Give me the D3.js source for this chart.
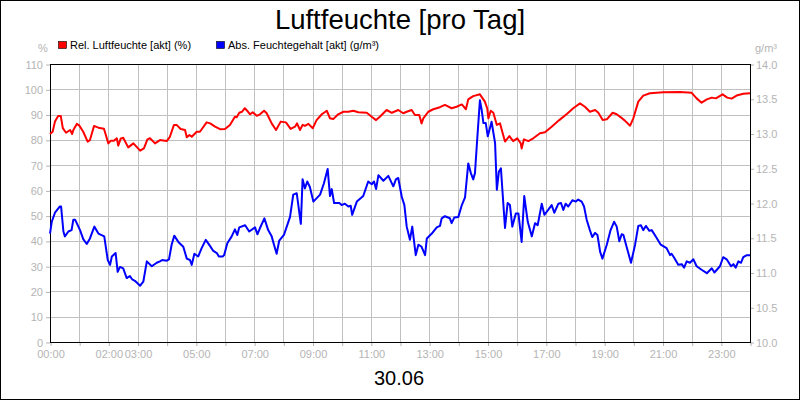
<!DOCTYPE html>
<html><head><meta charset="utf-8">
<script src="https://cdn.jsdelivr.net/npm/d3@7"></script>
<style>
body{margin:0;background:#fff;}
svg{display:block;font-family:"Liberation Sans",Arial,sans-serif;}
</style></head>
<body>
<svg id="c" width="800" height="400"></svg>
<script>
const title = "Luftfeuchte [pro Tag]";
const dateLabel = "30.06";
const seriesNames = ["Rel. Luftfeuchte [akt] (%)", "Abs. Feuchtegehalt [akt] (g/m³)"];
const leftUnit = "%", rightUnit = "g/m³";
const leftTicks = [0,10,20,30,40,50,60,70,80,90,100,110];
const rightTicks = [10.0,10.5,11.0,11.5,12.0,12.5,13.0,13.5,14.0];
const hourTicks = d3.range(0, 25);
const xLabelHours = [0,2,3,5,7,9,11,13,15,17,19,21,23];

// relative humidity: [hour, %]
const relHours = [0.00,0.09,0.17,0.28,0.37,0.44,0.55,0.69,0.76,0.80,0.92,1.00,1.14,1.29,1.37,1.51,1.66,1.85,2.00,2.08,2.19,2.29,2.34,2.42,2.51,2.68,2.86,3.09,3.22,3.34,3.43,3.60,3.77,4.00,4.11,4.25,4.34,4.48,4.63,4.69,4.78,4.86,5.03,5.14,5.37,5.49,5.66,5.83,6.00,6.17,6.34,6.40,6.49,6.58,6.68,6.76,6.86,6.95,7.09,7.20,7.34,7.43,7.60,7.75,7.91,8.09,8.25,8.40,8.47,8.57,8.66,8.74,8.86,9.01,9.14,9.32,9.49,9.60,9.71,9.88,10.06,10.23,10.40,10.57,10.86,11.03,11.18,11.31,11.54,11.72,11.94,12.11,12.23,12.40,12.51,12.66,12.74,12.80,12.97,13.14,13.37,13.54,13.77,13.94,14.12,14.26,14.34,14.51,14.74,14.91,14.99,15.03,15.11,15.20,15.32,15.43,15.49,15.60,15.75,15.88,16.02,16.14,16.17,16.25,16.40,16.57,16.80,16.97,17.20,17.46,17.72,17.94,18.17,18.34,18.51,18.69,18.80,18.95,19.09,19.29,19.43,19.57,19.71,19.89,20.00,20.17,20.34,20.57,21.03,21.60,22.00,22.17,22.34,22.52,22.69,22.83,23.06,23.22,23.37,23.54,23.77,24.00];
const relValues = [82.3,83.2,87.2,89.4,89.4,84.6,82.8,83.9,82.3,83.9,86.3,85.7,83.2,79.3,79.9,85.5,84.8,84.4,78.6,79.6,79.6,80.6,77.7,80.4,80.8,77.0,78.6,75.7,76.6,80.2,80.6,78.6,79.9,79.5,81.2,85.9,85.9,84.3,83.9,81.0,81.9,81.2,83.2,83.2,86.9,86.5,85.2,84.2,84.3,85.9,89.1,88.9,90.7,91.1,92.5,91.5,90.1,90.9,89.5,90.1,91.5,90.5,86.5,83.9,87.2,86.9,84.3,85.2,86.5,83.9,85.9,85.5,86.3,84.6,87.8,90.1,91.5,88.5,88.2,90.1,91.1,91.1,91.5,90.9,90.7,89.1,87.8,89.1,91.8,90.7,91.8,90.5,91.1,91.8,89.8,89.8,86.5,88.5,91.1,92.1,92.9,93.8,92.5,93.1,94.0,92.1,96.0,97.3,98.0,95.1,92.5,88.5,91.5,90.7,85.9,86.5,83.9,79.3,81.5,79.5,80.6,78.6,76.6,80.2,79.5,80.6,82.6,83.0,85.2,87.8,90.2,92.5,94.4,93.1,91.1,91.8,90.7,87.8,88.1,90.7,90.1,88.9,87.6,85.6,88.5,95.1,97.5,98.4,98.8,98.9,98.6,96.4,94.7,96.0,96.7,96.4,98.0,96.7,96.3,97.5,98.2,98.4];

// absolute humidity: [hour, g/m³]
const absHours = [0.00,0.06,0.17,0.34,0.38,0.46,0.51,0.63,0.74,0.80,0.86,1.03,1.14,1.26,1.37,1.52,1.66,1.86,1.98,2.06,2.12,2.25,2.32,2.40,2.51,2.63,2.74,2.82,2.91,3.09,3.20,3.32,3.49,3.66,3.77,3.85,4.00,4.08,4.17,4.26,4.40,4.57,4.69,4.80,4.86,4.95,5.08,5.20,5.34,5.49,5.60,5.72,5.79,5.92,5.97,6.08,6.23,6.34,6.42,6.49,6.69,6.83,7.03,7.11,7.20,7.35,7.48,7.60,7.68,7.77,7.86,8.02,8.23,8.34,8.46,8.60,8.66,8.74,8.82,8.91,9.03,9.26,9.39,9.52,9.60,9.66,9.74,9.92,10.00,10.11,10.23,10.31,10.36,10.52,10.74,10.91,11.03,11.11,11.18,11.26,11.43,11.60,11.77,11.86,11.94,12.06,12.15,12.23,12.34,12.42,12.54,12.63,12.74,12.86,12.92,13.09,13.26,13.37,13.43,13.54,13.71,13.77,13.86,14.00,14.12,14.23,14.34,14.43,14.51,14.57,14.63,14.74,14.80,14.86,14.94,15.01,15.14,15.26,15.32,15.39,15.46,15.51,15.60,15.69,15.77,15.85,15.97,16.06,16.17,16.26,16.38,16.52,16.63,16.72,16.86,16.95,17.08,17.20,17.29,17.43,17.52,17.60,17.68,17.77,17.91,18.03,18.11,18.23,18.31,18.40,18.51,18.59,18.69,18.77,18.86,18.94,19.09,19.22,19.34,19.43,19.52,19.60,19.66,19.75,19.92,20.06,20.17,20.26,20.34,20.43,20.55,20.63,20.78,20.94,21.14,21.26,21.31,21.39,21.54,21.66,21.74,21.83,21.94,22.06,22.17,22.34,22.52,22.69,22.78,22.97,23.08,23.20,23.35,23.43,23.51,23.60,23.69,23.77,23.89,24.00];
const absValues = [11.56,11.73,11.86,11.95,11.95,11.59,11.52,11.59,11.61,11.76,11.76,11.61,11.48,11.41,11.49,11.66,11.56,11.52,11.18,11.11,11.23,11.28,11.01,11.08,11.06,10.92,10.95,10.90,10.88,10.81,10.87,11.16,11.09,11.14,11.16,11.18,11.17,11.19,11.40,11.53,11.44,11.37,11.20,11.18,11.11,11.27,11.23,11.35,11.47,11.38,11.31,11.28,11.23,11.23,11.25,11.42,11.52,11.62,11.54,11.65,11.68,11.59,11.65,11.55,11.64,11.78,11.61,11.52,11.40,11.27,11.46,11.54,11.80,12.12,12.14,11.70,12.34,12.21,12.31,12.23,12.02,12.12,12.28,12.49,12.10,12.20,12.00,12.00,11.97,11.99,11.95,11.96,11.83,12.02,12.10,12.31,12.27,12.31,12.20,12.40,12.32,12.39,12.24,12.34,12.36,12.09,11.97,11.66,11.47,11.66,11.25,11.40,11.37,11.25,11.49,11.56,11.65,11.67,11.78,11.81,11.78,11.71,11.79,11.80,11.97,12.08,12.57,12.43,12.34,12.43,12.81,13.48,13.34,13.15,13.15,12.96,13.17,12.86,12.19,12.45,12.50,12.19,11.64,12.00,11.97,11.66,11.85,11.85,11.44,12.10,11.73,11.52,11.71,11.68,11.99,11.83,11.90,11.97,11.86,11.99,12.00,11.90,11.99,11.95,12.04,12.02,12.05,12.02,11.95,11.76,11.61,11.51,11.57,11.54,11.30,11.20,11.40,11.61,11.73,11.66,11.45,11.55,11.54,11.40,11.14,11.40,11.67,11.68,11.61,11.67,11.60,11.61,11.51,11.40,11.35,11.25,11.27,11.22,11.11,11.12,11.07,11.16,11.14,11.19,11.09,11.04,10.99,11.06,11.00,11.09,11.22,11.19,11.09,11.12,11.07,11.16,11.14,11.22,11.25,11.25];

const colors = ["#ff0000", "#0000ff"];
const gridColor = "#c0c0c0", labelColor = "#b4b4b4";

const svg = d3.select("#c");
const W = 800, H = 400;
const m = {left: 50, right: 50, top: 64, bottom: 58};
const x = d3.scaleLinear().domain([0, 24]).range([m.left, W - m.right]);
const yL = d3.scaleLinear().domain([0, 110]).range([H - m.bottom, m.top]);
const yR = d3.scaleLinear().domain([10, 14]).range([H - m.bottom, m.top]);

svg.append("rect").attr("x",0.5).attr("y",0.5).attr("width",W-1).attr("height",H-1)
  .attr("fill","#fff").attr("stroke","#000");

// grid
const g = svg.append("g");
g.selectAll(".hg").data(leftTicks).join("line")
  .attr("x1", x(0)).attr("x2", x(24))
  .attr("y1", d => Math.round(yL(d)) + 0.5).attr("y2", d => Math.round(yL(d)) + 0.5)
  .attr("stroke", gridColor);
g.selectAll(".vg").data(hourTicks).join("line")
  .attr("y1", yL(0)).attr("y2", yL(110))
  .attr("x1", d => Math.round(x(d)) + 0.5).attr("x2", d => Math.round(x(d)) + 0.5)
  .attr("stroke", gridColor);

function styleAxis(sel){
  sel.select(".domain").remove();
  sel.selectAll(".tick line").attr("stroke", labelColor);
  sel.selectAll(".tick text").attr("fill", labelColor).attr("font-size", 11)
    .attr("font-family", "Liberation Sans, Arial, sans-serif");
}

svg.append("g").attr("transform", `translate(${x(0)},0.5)`)
  .call(d3.axisLeft(yL).tickValues(leftTicks).tickSize(4).tickPadding(3))
  .call(styleAxis);
svg.append("g").attr("transform", `translate(${x(24)},0.5)`)
  .call(d3.axisRight(yR).tickValues(rightTicks).tickSize(4).tickPadding(2).tickFormat(d3.format(".1f")))
  .call(styleAxis);
const xa = svg.append("g").attr("transform", `translate(0.5,${yL(0)})`)
  .call(d3.axisBottom(x).tickValues(hourTicks).tickSize(4).tickPadding(4)
    .tickFormat(d => xLabelHours.includes(d) ? String(d).padStart(2,"0") + ":00" : ""))
  .call(styleAxis);

// plot frame
svg.append("rect").attr("x", x(0)+0.5).attr("y", yL(110)+0.5)
  .attr("width", x(24)-x(0)).attr("height", yL(0)-yL(110))
  .attr("fill","none").attr("stroke","#000");

// lines
const relData = relHours.map((h,i)=>[h, relValues[i]]);
const absData = absHours.map((h,i)=>[h, absValues[i]]);
svg.append("path").datum(relData)
  .attr("d", d3.line().x(d=>x(d[0])).y(d=>yL(d[1])))
  .attr("fill","none").attr("stroke",colors[0]).attr("stroke-width",2).attr("stroke-linejoin","round");
svg.append("path").datum(absData)
  .attr("d", d3.line().x(d=>x(d[0])).y(d=>yR(d[1])))
  .attr("fill","none").attr("stroke",colors[1]).attr("stroke-width",2).attr("stroke-linejoin","round");

// titles
svg.append("text").attr("x", 400).attr("y", 29).attr("text-anchor","middle")
  .attr("font-size", 27.5).attr("fill","#000").text(title);
svg.append("text").attr("x", 399).attr("y", 385).attr("text-anchor","middle")
  .attr("font-size", 20).attr("fill","#000").text(dateLabel);
svg.append("text").attr("x", 43).attr("y", 52).attr("text-anchor","middle")
  .attr("font-size", 11).attr("fill",labelColor).text(leftUnit);
svg.append("text").attr("x", 766).attr("y", 52).attr("text-anchor","middle")
  .attr("font-size", 11).attr("fill",labelColor).text(rightUnit);

// legend
const legX = [58, 216];
seriesNames.forEach((n,i)=>{
  svg.append("rect").attr("x", legX[i]+0.5).attr("y", 41.5).attr("width", 8).attr("height", 7)
    .attr("fill", colors[i]).attr("stroke", "#000").attr("stroke-width", 0.6);
  svg.append("text").attr("x", legX[i]+12).attr("y", 48.5).attr("font-size", 11)
    .attr("fill","#000").text(n);
});
</script>
</body></html>
